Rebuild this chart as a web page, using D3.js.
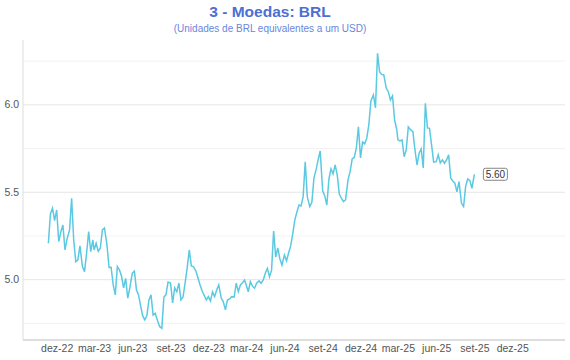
<!DOCTYPE html>
<html lang="pt">

<head>
    <meta charset="UTF-8">
    <title>3 - Moedas: BRL</title>
    <script src="https://cdn.jsdelivr.net/npm/d3@7"></script>

    <style type="text/css">

        body {
            margin: 0;
            background: #fff;
        }

        text {
            font-family: "Liberation Sans", Arial, Helvetica, sans-serif;
        }

        .title {
            font-size: 15.5px;
            font-weight: bold;
            fill: #4d6fd3;
        }

        .subtitle {
            font-size: 10px;
            fill: #6a86dc;
        }

        .axis text {
            font-size: 10.5px;
            fill: #555;
        }

        .rateLine {
            fill: none;
            stroke: #5bc9e1;
            stroke-width: 1.5;
        }

    </style>

</head>

<body>

    <svg id="chart"></svg>

    <script>

        // Sizes of the SVG
        var width = 570;
        var height = 360;
        var margin = {top: 40, right: 5, bottom: 20, left: 23};

        // Data: BRL per USD, read on days 1, 6, 11, 16, 21 and 26 of each month
        var months = [
            "2022-11", "2022-12",
            "2023-01", "2023-02", "2023-03", "2023-04", "2023-05", "2023-06",
            "2023-07", "2023-08", "2023-09", "2023-10", "2023-11", "2023-12",
            "2024-01", "2024-02", "2024-03", "2024-04", "2024-05", "2024-06",
            "2024-07", "2024-08", "2024-09", "2024-10", "2024-11", "2024-12",
            "2025-01", "2025-02", "2025-03", "2025-04", "2025-05", "2025-06",
            "2025-07", "2025-08", "2025-09"
        ];
        var sampleDays = [1, 6, 11, 16, 21, 26];
        var rates = [
            [null, null, 5.205, 5.374, 5.406, 5.335],
            [5.396, 5.215, 5.270, 5.310, 5.167, 5.230],
            [5.282, 5.463, 5.224, 5.100, 5.110, 5.190],
            [5.072, 5.043, 5.148, 5.272, 5.157, 5.224],
            [5.167, 5.205, 5.160, 5.177, 5.282, 5.293],
            [5.196, 5.067, 5.068, 4.967, 4.910, 5.072],
            [5.053, 5.018, 4.950, 5.005, 4.891, 4.950],
            [5.034, 5.046, 4.938, 4.910, 4.847, 4.790],
            [4.767, 4.790, 4.881, 4.910, 4.795, 4.805],
            [4.761, 4.728, 4.719, 4.898, 4.910, 4.984],
            [4.978, 4.864, 4.950, 4.928, 4.977, 4.881],
            [4.898, 4.977, 5.064, 5.167, 5.076, 5.072],
            [5.047, 5.007, 4.967, 4.932, 4.907, 4.881],
            [4.900, 4.875, 4.927, 4.900, 4.938, 4.967],
            [4.892, 4.870, 4.824, 4.881, 4.887, 4.900],
            [4.898, 4.977, 4.928, 4.967, 4.980, 4.995],
            [4.967, 4.928, 4.986, 4.960, 4.948, 4.977],
            [4.990, 4.977, 4.995, 5.034, 5.062, 5.014],
            [5.050, 5.275, 5.127, 5.178, 5.116, 5.081],
            [5.138, 5.104, 5.150, 5.190, 5.259, 5.339],
            [5.384, 5.424, 5.419, 5.472, 5.672, 5.470],
            [5.415, 5.439, 5.579, 5.625, 5.682, 5.733],
            [5.505, 5.476, 5.424, 5.573, 5.631, 5.602],
            [5.653, 5.596, 5.487, 5.464, 5.443, 5.453],
            [5.568, 5.615, 5.688, 5.696, 5.751, 5.871],
            [5.693, 5.785, 5.774, 5.805, 5.882, 6.019],
            [6.054, 5.980, 6.292, 6.185, 6.171, 6.168],
            [6.093, 6.071, 6.025, 6.048, 5.911, 5.859],
            [5.797, 5.791, 5.797, 5.700, 5.739, 5.871],
            [5.854, 5.844, 5.739, 5.653, 5.721, 5.745],
            [5.636, 6.006, 5.865, 5.863, 5.768, 5.670],
            [5.672, 5.711, 5.665, 5.682, 5.663, 5.682],
            [5.711, 5.579, 5.562, 5.549, 5.499, 5.558],
            [5.434, 5.415, 5.532, 5.573, 5.565, 5.520],
            [5.600, null, null, null, null, null]
        ];

        // Axis settings
        var xDomain = ["2022-09-11", "2026-04-07"];
        var xTickMonths = ["2022-12", "2023-03", "2023-06", "2023-09", "2023-12", "2024-03",
            "2024-06", "2024-09", "2024-12", "2025-03", "2025-06", "2025-09", "2025-12"];
        var monthNames = ["jan", "fev", "mar", "abr", "mai", "jun", "jul", "ago", "set", "out", "nov", "dez"];
        var yDomain = [4.652, 6.368];
        var yMajorTicks = [5.0, 5.5, 6.0];
        var yMinorTicks = [4.75, 5.25, 5.75, 6.25];

        var parseDay = d3.timeParse("%Y-%m-%d");
        var parseMonth = d3.timeParse("%Y-%m");

        var series = [];
        months.forEach(function (m, i) {
            rates[i].forEach(function (v, j) {
                if (v !== null) {
                    series.push({date: parseDay(m + "-" + String(sampleDays[j]).padStart(2, "0")), value: v});
                }
            });
        });

        var x = d3.scaleTime()
            .domain(xDomain.map(parseDay))
            .range([margin.left, width - margin.right]);

        var y = d3.scaleLinear()
            .domain(yDomain)
            .range([height - margin.bottom, margin.top]);

        var svg = d3.select("#chart")
            .attr("width", width)
            .attr("height", height);

        // Minor grid lines
        svg.append("g")
            .attr("transform", "translate(" + margin.left + ",0)")
            .call(d3.axisLeft(y).tickValues(yMinorTicks)
                .tickSize(-(width - margin.left - margin.right)).tickFormat(""))
            .call(function (g) {
                g.select(".domain").remove();
                g.selectAll("line").attr("stroke", "#f2f2f2");
            });

        // Major grid lines with labels
        svg.append("g")
            .attr("class", "axis")
            .attr("transform", "translate(" + margin.left + ",0)")
            .call(d3.axisLeft(y).tickValues(yMajorTicks)
                .tickSize(-(width - margin.left - margin.right))
                .tickPadding(4)
                .tickFormat(d3.format(".1f")))
            .call(function (g) {
                g.select(".domain").remove();
                g.selectAll("line").attr("stroke", "#e6e6e6");
            });

        // X axis
        svg.append("g")
            .attr("class", "axis")
            .attr("transform", "translate(0," + (height - margin.bottom) + ")")
            .call(d3.axisBottom(x)
                .tickValues(xTickMonths.map(parseMonth))
                .tickSize(0)
                .tickPadding(5)
                .tickFormat(function (d) {
                    return monthNames[d.getMonth()] + "-" + String(d.getFullYear()).slice(2);
                }))
            .call(function (g) {
                g.select(".domain").remove();
            });

        // Axis frame lines
        svg.append("line")
            .attr("x1", margin.left).attr("x2", margin.left)
            .attr("y1", margin.top).attr("y2", height - margin.bottom)
            .attr("stroke", "#dddddd");

        svg.append("line")
            .attr("x1", margin.left).attr("x2", width - margin.right)
            .attr("y1", height - margin.bottom).attr("y2", height - margin.bottom)
            .attr("stroke", "#dddddd")
            .attr("stroke-width", 2);

        // Line
        var line = d3.line()
            .x(function (d) {
                return x(d.date);
            })
            .y(function (d) {
                return y(d.value);
            });

        svg.append("path")
            .datum(series)
            .attr("class", "rateLine")
            .attr("d", line);

        // Last value label
        var last = series[series.length - 1];
        var label = svg.append("g")
            .attr("transform", "translate(" + (x(last.date) + 9) + "," + y(last.value) + ")");

        label.append("rect")
            .attr("x", 0).attr("y", -6)
            .attr("width", 24).attr("height", 12)
            .attr("rx", 2)
            .attr("fill", "#fff")
            .attr("stroke", "#666")
            .attr("stroke-width", 0.8);

        label.append("text")
            .attr("x", 12).attr("y", 3.5)
            .attr("text-anchor", "middle")
            .style("font-size", "10px")
            .style("fill", "#333")
            .text(d3.format(".2f")(last.value));

        // Titles
        svg.append("text")
            .attr("class", "title")
            .attr("x", 270).attr("y", 17)
            .attr("text-anchor", "middle")
            .text("3 - Moedas: BRL");

        svg.append("text")
            .attr("class", "subtitle")
            .attr("x", 270).attr("y", 32)
            .attr("text-anchor", "middle")
            .text("(Unidades de BRL equivalentes a um USD)");

    </script>

</body>

</html>
